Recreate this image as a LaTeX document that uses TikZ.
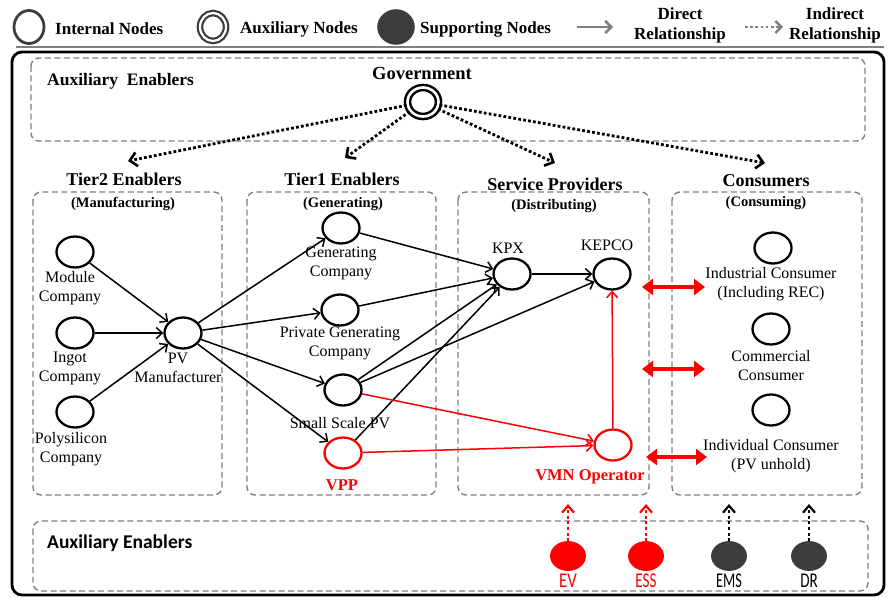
\documentclass[tikz,border=0pt]{standalone}
\usepackage{fontspec}
\usepackage{graphicx}
\setmainfont{Liberation Serif}
\newfontfamily\cfont{Carlito}
\usetikzlibrary{arrows.meta,shapes.geometric}
\definecolor{dgray}{HTML}{3C3C3C}
\definecolor{bgray}{HTML}{808080}
\begin{document}
\begin{tikzpicture}[x=1pt,y=-1pt,
  inode/.style={ellipse,draw=black,line width=2.3pt,minimum width=37pt,minimum height=31pt,inner sep=0pt},
  rnode/.style={inode,draw=red},
  snode/.style={ellipse,draw=#1,fill=#1,line width=0.8pt,minimum width=35pt,minimum height=29pt,inner sep=0pt},
  lbl/.style={font=\fontsize{16}{19}\selectfont,align=center,inner sep=0pt},
  rlbl/.style={font=\fontsize{16.5}{19}\selectfont\bfseries,text=red,inner sep=0pt},
  ttl/.style={font=\fontsize{18}{20}\selectfont\bfseries,inner sep=0pt},
  sttl/.style={font=\fontsize{14.5}{17}\selectfont\bfseries,inner sep=0pt},
  lgd/.style={font=\fontsize{17}{20}\selectfont\bfseries,inner sep=0pt,align=center},
  gbox/.style={draw=bgray,line width=1.4pt,dash pattern=on 6pt off 3.5pt,rounded corners=8pt},
  edge/.style={line width=1.5pt,-{Straight Barb[length=6pt,width=11pt]}},
  redge/.style={edge,draw=red},
  govarrow/.style={line width=2.8pt,dash pattern=on 2.8pt off 2.2pt,-{Straight Barb[length=7pt,width=14pt,line width=2.6pt]}},
  uparrow/.style={line width=2.4pt,dash pattern=on 3pt off 2.6pt,draw=#1,-{Straight Barb[length=7pt,width=12pt,line width=2.2pt]}},
  dbl/.style={draw=red,line width=3.2pt,{Triangle[length=11pt,width=16pt]}-{Triangle[length=11pt,width=16pt]}},
  blab/.style={font=\cfont\fontsize{21}{22}\selectfont,inner sep=0pt}
]
\useasboundingbox (0,0) rectangle (890,599);

% ---------- legend ----------
\node[ellipse,draw=dgray,line width=2.8pt,minimum width=30pt,minimum height=33pt,inner sep=0pt] (lc1) at (29,27) {};
\node[lgd,anchor=west] (lt1) at (55,29) {Internal Nodes};
\node[ellipse,draw=dgray,double=white,double distance=2.2pt,line width=2.2pt,minimum width=26pt,minimum height=28pt,inner sep=0pt] (lc2) at (213,27) {};
\node[lgd,anchor=west] (lt2) at (240,29) {Auxiliary Nodes};
\node[ellipse,fill=dgray,draw=dgray,minimum width=37pt,minimum height=35pt,inner sep=0pt] (lc3) at (396,27) {};
\node[lgd,anchor=west] (lt3) at (420,29) {Supporting Nodes};
\coordinate (la1) at (577,27);
\coordinate (la2) at (613,27);
\draw[draw=bgray,line width=2.8pt,-{Straight Barb[length=6pt,width=12pt,line width=2.6pt]}] (la1) -- (la2);
\node[lgd] (lt4) at (680,25) {Direct\\Relationship};
\coordinate (lb1) at (745,27);
\coordinate (lb2) at (783,27);
\draw[draw=bgray,line width=2.6pt,dash pattern=on 2.6pt off 2.6pt,-{Straight Barb[length=6pt,width=12pt,line width=2.4pt]}] (lb1) -- (lb2);
\node[lgd] (lt5) at (835,25) {Indirect\\Relationship};
\coordinate (ls1) at (16,47);
\coordinate (ls2) at (884,47);
\draw[draw=bgray,line width=1.2pt] (ls1) -- (ls2);

% ---------- frame ----------
\draw[line width=2.8pt,rounded corners=10pt] (12,52) rectangle (884,595);

% ---------- top auxiliary box ----------
\draw[gbox] (31,58) rectangle (865,141);
\node[font=\fontsize{17.5}{20}\selectfont\bfseries,anchor=west,inner sep=0pt] (auxt) at (47,81) {Auxiliary\ \ Enablers};
\node[font=\fontsize{18.5}{20}\selectfont\bfseries,inner sep=0pt] (govl) at (422,73) {Government};
\node[ellipse,draw=black,double=white,double distance=2.6pt,line width=2.5pt,minimum width=31pt,minimum height=29pt,inner sep=0pt] (gov) at (423,102) {};

% dotted arrows from government
\coordinate (g1) at (128,161);
\coordinate (g2) at (345,158);
\coordinate (g3) at (555,163);
\coordinate (g4) at (765,163);
\draw[govarrow] (gov) -- (g1);
\draw[govarrow] (gov) -- (g2);
\draw[govarrow] (gov) -- (g3);
\draw[govarrow] (gov) -- (g4);

% ---------- section boxes ----------
\draw[gbox] (33,192) rectangle (222,495);
\draw[gbox] (247,192) rectangle (436,495);
\draw[gbox] (458,192) rectangle (649,495);
\draw[gbox] (672,192) rectangle (862,495);

\node[ttl] (s1) at (124,179) {Tier2 Enablers};
\node[ttl] (s2) at (342,179) {Tier1 Enablers};
\node[ttl] (s3) at (555,184) {Service Providers};
\node[ttl] (s4) at (766,181) {Consumers};
\node[sttl] (u1) at (123,204) {(Manufacturing)};
\node[sttl] (u2) at (343,204) {(Generating)};
\node[sttl] (u3) at (554,206) {(Distributing)};
\node[sttl] (u4) at (766,203) {(Consuming)};

% ---------- nodes ----------
\node[inode] (mod) at (75,252) {};
\node[inode] (ing) at (75,333) {};
\node[inode] (pol) at (75,412) {};
\node[inode] (pv) at (183,333) {};
\node[inode] (gen) at (341,228) {};
\node[inode] (pri) at (340,310) {};
\node[inode] (sml) at (343,390) {};
\node[rnode] (vpp) at (343,453) {};
\node[inode] (kpx) at (512,274) {};
\node[inode] (kep) at (612,274) {};
\node[rnode] (vmn) at (613,445) {};
\node[inode] (ind) at (773,248) {};
\node[inode] (com) at (771,329) {};
\node[inode] (ivd) at (771,410) {};

\node[lbl] (modl) at (70,288) {Module\\Company};
\node[lbl] (ingl) at (70,368) {Ingot\\Company};
\node[lbl] (poll) at (71,449) {Polysilicon\\Company};
\node[lbl] (pvl) at (178,368) {PV\\Manufacturer};
\node[lbl] (genl) at (341,263) {Generating\\Company};
\node[lbl] (pril) at (340,343) {Private Generating\\Company};
\node[lbl] (smll) at (340,423) {Small Scale PV};
\node[rlbl] (vppl) at (342,485) {VPP};
\node[lbl] (kpxl) at (508,248) {KPX};
\node[lbl] (kepl) at (607,245) {KEPCO};
\node[rlbl] (vmnl) at (590,477) {VMN Operator};
\node[lbl] (indl) at (771,284) {Industrial Consumer\\(Including REC)};
\node[lbl] (coml) at (771,366) {Commercial\\Consumer};
\node[lbl] (ivdl) at (771,456) {Individual Consumer\\(PV unhold)};

% ---------- edges ----------
\draw[edge] (mod) -- (pv);
\draw[edge] (ing) -- (pv);
\draw[edge] (pol) -- (pv);
\draw[edge] (pv) -- (gen);
\draw[edge] (pv) -- (pri);
\draw[edge] (pv) -- (sml);
\draw[edge] (pv) -- (vpp);
\draw[edge] (gen) -- (kpx);
\draw[edge] (pri) -- (kpx);
\draw[edge] (sml) -- (kpx);
\draw[edge] (vpp) -- (kpx);
\draw[edge] (sml) -- (kep);
\draw[edge] (kpx) -- (kep);
\draw[redge] (sml) -- (vmn);
\draw[redge] (vpp) -- (vmn);
\draw[redge] (vmn) -- (kep);

% red double arrows
\coordinate (d1a) at (642,287); \coordinate (d1b) at (705,287);
\coordinate (d2a) at (642,369); \coordinate (d2b) at (705,369);
\coordinate (d3a) at (646,457); \coordinate (d3b) at (707,457);
\draw[dbl] (d1a) -- (d1b);
\draw[dbl] (d2a) -- (d2b);
\draw[dbl] (d3a) -- (d3b);

% ---------- bottom auxiliary box ----------
\draw[gbox] (33,521) rectangle (868,591);
\node[font=\cfont\fontsize{19.5}{22}\selectfont\bfseries,anchor=west,inner sep=0pt] (auxb) at (47,543) {Auxiliary Enablers};

\node[snode=red] (ev) at (568,556) {};
\node[snode=red] (ess) at (646,556) {};
\node[snode=dgray] (ems) at (729,556) {};
\node[snode=dgray] (dr) at (809,556) {};
\node[blab,text=red] (evl) at (568,581) {\scalebox{0.8}[1]{EV}};
\node[blab,text=red] (essl) at (646,581) {\scalebox{0.72}[1]{ESS}};
\node[blab] (emsl) at (729,581) {\scalebox{0.68}[1]{EMS}};
\node[blab] (drl) at (809,581) {\scalebox{0.72}[1]{DR}};

\coordinate (evt) at (568,504);
\coordinate (esst) at (646,504);
\coordinate (emst) at (729,504);
\coordinate (drt) at (809,504);
\draw[uparrow=red] (ev) -- (evt);
\draw[uparrow=red] (ess) -- (esst);
\draw[uparrow=black] (ems) -- (emst);
\draw[uparrow=black] (dr) -- (drt);
\end{tikzpicture}
\end{document}
